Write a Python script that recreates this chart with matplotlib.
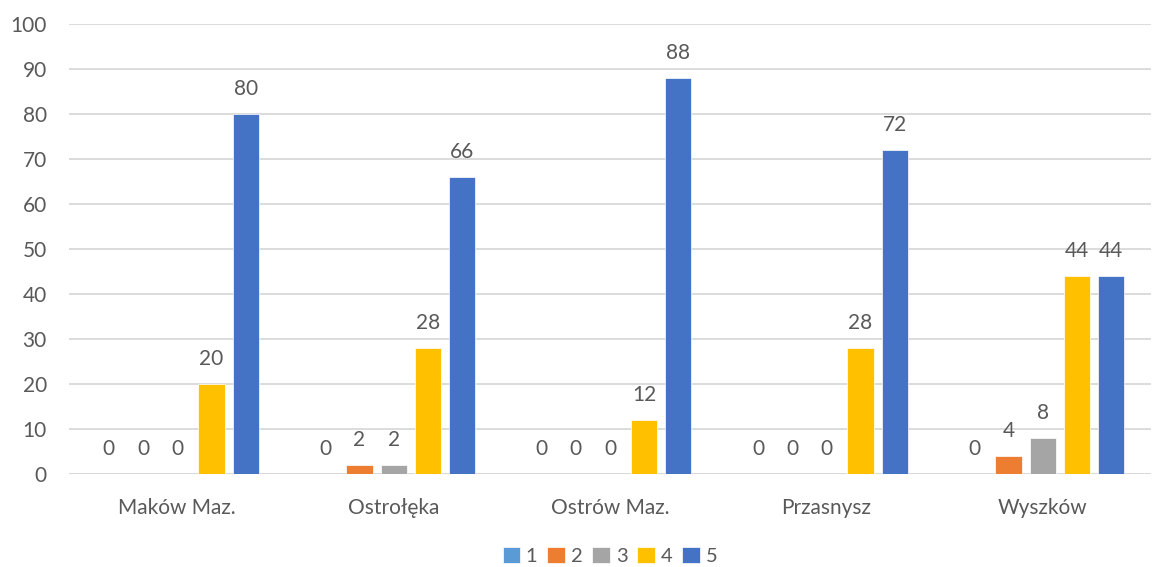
import matplotlib
matplotlib.use("Agg")
import matplotlib.pyplot as plt
import numpy as np

categories = ["Maków Maz.", "Ostrołęka", "Ostrów Maz.", "Przasnysz", "Wyszków"]
series_names = ["1", "2", "3", "4", "5"]
s1 = [0, 0, 0, 0, 0]
s2 = [0, 2, 0, 0, 4]
s3 = [0, 2, 0, 0, 8]
s4 = [20, 28, 12, 28, 44]
s5 = [80, 66, 88, 72, 44]
series = [s1, s2, s3, s4, s5]
colors = ["#5B9BD5", "#ED7D31", "#A5A5A5", "#FFC000", "#4472C4"]

plt.rcParams['font.family'] = ['Lato', 'DejaVu Sans']
txt = "#595959"
fs = 15

fig = plt.figure(figsize=(11.52, 5.67), dpi=100)
ax = fig.add_axes([0.06, 0.164, 0.939, 0.794])

x = np.arange(len(categories))
step = 0.158
width = 0.121
for i, (vals, c, name) in enumerate(zip(series, colors, series_names)):
    pos = x + (i - 2) * step
    ax.bar(pos, vals, width, color=c, label=name, zorder=3,
           edgecolor="white", linewidth=0.5)
    for p, v in zip(pos, vals):
        ax.annotate(str(v), (p, v), xytext=(0, 11), textcoords="offset points",
                    ha="center", va="bottom", fontsize=fs, color=txt)

ax.set_xlim(-0.5, 4.5)
ax.set_ylim(0, 100)
ax.set_yticks(range(0, 101, 10))
ax.set_xticks(x)
ax.set_xticklabels(categories)
ax.tick_params(axis="both", length=0, labelsize=fs, labelcolor=txt)
ax.tick_params(axis="x", pad=17)
ax.tick_params(axis="y", pad=16)
ax.grid(axis="y", color="#D9D9D9", linewidth=1.3, zorder=0)
for s in ax.spines.values():
    s.set_visible(False)
ax.axhline(0, color="#D9D9D9", linewidth=1.3, zorder=1)

ax.legend(loc="center", bbox_to_anchor=(0.5, -0.182), ncol=5,
          frameon=False, fontsize=14.5, handlelength=0.85, handleheight=0.85,
          handletextpad=0.3, columnspacing=0.5, labelcolor=txt,
          borderpad=0.2)

fig.savefig("out.png", dpi=100)
